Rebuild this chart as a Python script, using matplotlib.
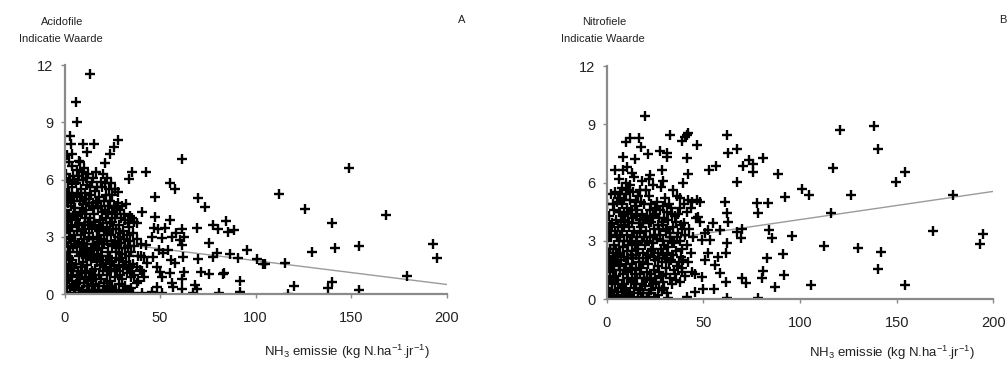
import matplotlib
matplotlib.use("Agg")
import matplotlib.pyplot as plt

plt.rcParams['font.family'] = ['Liberation Sans', 'DejaVu Sans']
plt.rcParams['mathtext.default'] = 'regular'

# ---------------- data ----------------
# Panel A: Acidofile indicatie waarde vs NH3 emissie
acid_sparse = [
    (13.4, 11.55), (6.0, 10.05), (6.4, 9.05), (2.9, 8.29), (3.4, 7.87), (9.5, 7.87),
    (15.4, 7.87), (1.1, 7.29), (3.7, 7.35), (11.6, 7.46), (28.2, 8.08), (26.1, 7.73),
    (23.8, 7.34), (21.2, 6.85), (7.8, 6.98), (3.7, 6.73), (34.0, 6.03), (35.2, 6.42),
    (42.7, 6.42), (61.3, 7.06), (55.2, 5.84), (57.8, 5.51), (28.2, 5.33), (47.4, 5.07),
    (70.0, 5.05), (73.5, 4.55), (112.4, 5.24), (125.9, 4.44), (149.0, 6.63), (168.2, 4.13),
    (139.8, 3.72), (141.5, 2.40), (129.3, 2.19), (154.1, 2.50), (193.0, 2.60), (194.7, 1.91),
    (179.0, 0.93), (154.3, 0.21), (138.0, 0.33), (140.1, 0.61), (120.2, 0.44), (117.1, 0.02),
    (115.4, 1.63), (105.0, 1.56), (104.0, 1.56), (100.6, 1.82), (95.7, 2.31), (91.0, 1.91),
    (91.9, 0.68), (91.9, 0.09), (86.6, 2.10), (84.5, 3.83), (85.7, 3.23), (88.9, 3.36),
    (77.9, 3.62), (80.5, 3.39), (75.6, 2.69), (79.6, 2.17), (77.9, 1.96), (83.1, 1.05),
    (83.5, 1.12), (75.8, 1.05), (71.4, 1.14), (70.0, 1.82), (69.2, 3.48), (80.9, 0.03),
    (67.4, 0.03), (69.2, 0.28), (68.3, 0.47), (61.3, 3.39), (62.7, 2.97), (60.4, 2.83),
    (61.3, 2.57), (61.8, 1.96), (62.7, 1.17), (61.3, 0.77), (61.3, 0.24), (58.2, 3.18),
    (55.2, 3.88), (52.5, 3.48), (56.1, 3.01), (54.0, 2.31), (55.5, 1.78), (57.8, 1.61),
    (55.2, 1.08), (56.1, 0.56), (56.9, 0.35), (50.8, 0.03), (47.4, 4.06), (46.9, 3.44),
    (49.1, 3.39), (45.6, 3.01), (50.8, 2.92), (49.6, 2.31), (51.7, 2.13), (46.1, 1.92),
    (48.2, 1.43), (50.0, 1.17), (51.2, 0.91), (48.2, 0.38), (45.6, 0.12), (42.7, 2.57),
    (40.5, 4.32), (41.4, 1.96), (43.0, 1.61), (39.5, 1.26), (41.4, 0.91), (37.8, 0.56),
    (40.5, 0.03), (36.0, 0.03),
]
acid_dense = [
    (0.4, 7.2), (0.6, 6.3), (0.3, 5.5), (0.8, 4.9), (0.5, 4.4), (0.2, 4.0), (0.7, 3.6),
    (0.4, 3.2), (0.9, 2.7), (0.3, 2.2), (0.6, 1.6), (1.0, 1.0), (0.5, 0.6), (0.8, 0.1),
    (2.2, 6.9), (1.8, 5.9), (2.5, 5.3), (1.6, 4.8), (2.3, 4.2), (1.9, 3.8), (2.6, 3.0),
    (1.7, 2.5), (2.4, 1.9), (2.0, 1.3), (1.5, 0.8), (2.7, 0.3),
    (4.2, 6.2), (3.8, 5.6), (4.5, 5.1), (3.6, 4.6), (4.4, 4.1), (4.0, 3.5), (3.5, 2.9),
    (4.6, 2.4), (3.9, 1.8), (4.3, 1.2), (3.7, 0.7), (4.8, 0.2),
    (6.3, 6.5), (5.8, 5.8), (6.6, 5.2), (5.6, 4.5), (6.1, 3.9), (6.8, 3.3), (5.5, 2.8),
    (6.4, 2.2), (5.9, 1.6), (6.7, 1.0), (6.0, 0.5), (5.7, 0.05),
    (8.1, 6.9), (7.7, 6.2), (8.5, 5.5), (7.9, 4.9), (8.3, 4.3), (7.6, 3.7), (8.7, 3.1),
    (8.0, 2.5), (7.8, 2.0), (8.6, 1.4), (8.2, 0.9), (7.5, 0.3),
    (10.2, 6.6), (9.7, 6.0), (10.5, 5.3), (9.9, 4.7), (10.8, 4.0), (9.6, 3.4), (10.4, 2.9),
    (10.0, 2.3), (9.5, 1.7), (10.6, 1.1), (10.1, 0.6), (9.8, 0.1),
    (12.3, 6.3), (11.8, 5.7), (12.6, 5.0), (11.5, 4.4), (12.1, 3.8), (12.8, 3.2), (11.7, 2.6),
    (12.4, 2.0), (11.9, 1.5), (12.7, 0.9), (12.0, 0.4), (11.6, 0.0),
    (14.2, 5.9), (13.8, 5.2), (14.5, 4.6), (13.6, 4.0), (14.3, 3.5), (14.8, 2.9), (13.7, 2.3),
    (14.1, 1.8), (14.6, 1.2), (13.9, 0.7), (14.4, 0.2),
    (16.3, 6.4), (15.8, 5.4), (16.5, 4.8), (15.6, 4.2), (16.1, 3.6), (16.8, 3.0), (15.7, 2.5),
    (16.4, 1.9), (15.9, 1.3), (16.6, 0.8), (16.0, 0.1),
    (18.2, 5.1), (17.7, 4.5), (18.5, 3.9), (17.9, 3.3), (18.3, 2.7), (17.6, 2.1), (18.7, 1.5),
    (18.0, 1.0), (17.8, 0.4),
    (20.1, 6.3), (19.7, 5.6), (20.5, 4.9), (19.8, 4.3), (20.3, 3.7), (20.8, 3.1), (19.6, 2.4),
    (20.4, 1.8), (20.0, 1.2), (20.6, 0.6), (19.9, 0.1),
    (22.2, 6.1), (21.8, 5.2), (22.6, 4.6), (21.6, 4.0), (22.4, 3.4), (22.0, 2.8), (22.7, 2.2),
    (21.7, 1.6), (22.3, 1.0), (22.5, 0.3),
    (24.3, 5.8), (23.8, 4.9), (24.6, 4.3), (23.7, 3.7), (24.2, 3.1), (24.8, 2.5), (23.9, 1.9),
    (24.4, 1.3), (24.0, 0.7), (24.5, 0.1),
    (26.2, 5.5), (25.8, 4.5), (26.5, 4.0), (25.6, 3.4), (26.3, 2.8), (26.7, 2.2), (25.9, 1.5),
    (26.4, 0.9), (26.0, 0.2),
    (28.1, 4.8), (27.7, 4.2), (28.5, 3.6), (27.8, 3.0), (28.3, 2.4), (28.7, 1.8), (27.6, 1.2),
    (28.4, 0.5), (28.0, 0.0),
    (30.2, 4.6), (29.8, 4.0), (30.5, 3.3), (29.7, 2.7), (30.3, 2.1), (30.8, 1.4), (29.9, 0.8),
    (30.4, 0.2),
    (32.2, 4.7), (31.8, 3.9), (32.5, 3.1), (31.7, 2.4), (32.3, 1.7), (32.7, 1.1), (31.9, 0.4),
    (34.1, 4.1), (33.8, 3.5), (34.5, 2.8), (33.7, 2.0), (34.3, 1.5), (34.7, 0.9), (33.9, 0.1),
    (36.2, 3.8), (35.8, 3.2), (36.5, 2.5), (35.7, 1.6), (36.3, 1.0),
    (38.1, 3.7), (37.7, 2.9), (38.4, 2.0), (37.9, 1.4), (38.3, 0.7),
    (40.2, 2.6), (39.8, 2.0), (40.4, 1.2),
]
acid_dense_extra = [
    (1.3, 5.2), (1.2, 4.2), (1.4, 3.4), (1.1, 2.0), (1.3, 0.4),
    (3.1, 6.0), (3.0, 5.0), (3.2, 3.9), (2.9, 3.3), (3.1, 2.2), (3.0, 1.5), (3.3, 0.9),
    (5.1, 6.0), (5.0, 4.9), (5.2, 4.2), (4.9, 3.1), (5.3, 2.6), (5.0, 1.4), (5.1, 0.4),
    (7.1, 6.0), (7.0, 5.3), (7.2, 4.1), (6.9, 3.6), (7.1, 2.7), (7.3, 1.2), (7.0, 0.6),
    (9.1, 6.4), (9.0, 5.1), (9.2, 4.5), (8.9, 3.3), (9.1, 2.7), (9.3, 2.1), (9.0, 1.2), (9.2, 0.2),
    (11.1, 6.1), (11.0, 5.0), (11.2, 4.2), (10.9, 3.6), (11.1, 2.4), (11.3, 1.9), (11.0, 0.8),
    (13.1, 5.6), (13.0, 4.8), (13.2, 3.6), (12.9, 3.0), (13.1, 2.2), (13.3, 1.1), (13.0, 0.2),
    (15.1, 6.1), (15.0, 4.5), (15.2, 3.8), (14.9, 2.6), (15.1, 2.0), (15.3, 1.0), (15.0, 0.5),
    (17.1, 5.6), (17.0, 4.9), (17.2, 3.4), (16.9, 2.3), (17.1, 1.7), (17.3, 0.2),
    (19.1, 5.9), (19.0, 4.6), (19.2, 3.5), (18.9, 2.9), (19.1, 2.0), (19.3, 0.8),
    (21.1, 5.8), (21.0, 4.4), (21.2, 3.3), (20.9, 2.6), (21.1, 1.4), (21.3, 0.2),
    (23.1, 5.5), (23.0, 4.2), (23.2, 3.3), (22.9, 2.0), (23.1, 1.2), (23.3, 0.4),
    (25.1, 5.2), (25.0, 3.8), (25.2, 2.6), (24.9, 1.7), (25.1, 0.4),
    (27.1, 4.6), (27.0, 3.4), (27.2, 2.5), (26.9, 1.3), (27.1, 0.1),
    (29.1, 4.4), (29.0, 3.2), (29.2, 1.9), (28.9, 1.0),
    (31.1, 4.2), (31.0, 2.9), (31.2, 1.5), (30.9, 0.1),
    (33.1, 3.7), (33.0, 2.5), (33.2, 1.3), (35.1, 4.0), (35.0, 2.2), (35.2, 1.2), (35.0, 0.3),
]

# Panel B: Nitrofiele indicatie waarde vs NH3 emissie
nitro_sparse = [
    (19.8, 9.43), (12.1, 8.31), (10.0, 8.11), (16.9, 8.28), (17.6, 7.85), (8.6, 7.34),
    (14.7, 7.20), (21.6, 7.46), (27.6, 7.65), (31.4, 7.55), (31.0, 7.34), (32.8, 8.44),
    (38.8, 8.14), (40.5, 8.37), (42.2, 8.54), (41.4, 8.46), (46.9, 7.94), (41.7, 7.26),
    (39.3, 5.97), (41.9, 6.45), (28.4, 6.66), (29.3, 6.06), (22.4, 6.40), (12.9, 6.48),
    (4.3, 6.66), (8.6, 6.66), (10.7, 6.83), (62.1, 8.46), (62.9, 7.55), (67.2, 7.74),
    (73.8, 7.14), (75.5, 6.95), (75.9, 6.54), (81.0, 7.26), (70.3, 6.86), (67.6, 6.05),
    (53.1, 6.66), (56.6, 6.86), (88.8, 6.43), (100.9, 5.66), (104.8, 5.37), (92.2, 5.28),
    (77.6, 4.97), (83.6, 4.97), (78.4, 4.46), (120.7, 8.71), (138.3, 8.92), (140.5, 7.74),
    (117.2, 6.74), (154.3, 6.54), (149.7, 6.05), (126.4, 5.37), (179.3, 5.37), (115.9, 4.46),
    (168.6, 3.53), (194.8, 3.34), (193.1, 2.83), (112.4, 2.74), (129.8, 2.62), (141.9, 2.42),
    (140.2, 1.54), (154.5, 0.74), (105.7, 0.74), (95.7, 3.26), (91.4, 2.33), (91.9, 1.25),
    (87.1, 0.65), (84.1, 3.57), (85.3, 3.14), (82.8, 2.14), (81.0, 1.48), (80.2, 1.08),
    (78.1, 0.05), (69.8, 3.60), (67.6, 3.48), (69.3, 3.14), (69.8, 1.08), (72.1, 0.82),
    (62.1, 0.05), (61.7, 0.91), (61.7, 2.40), (62.9, 4.00), (62.1, 4.43), (61.4, 5.03),
    (62.4, 2.88), (58.6, 3.57), (57.8, 2.20), (56.0, 1.77), (58.6, 1.34), (55.5, 0.51),
    (50.0, 0.51), (45.7, 0.39), (41.4, 0.14), (31.9, 0.05), (49.1, 3.05), (50.9, 3.40),
    (52.6, 3.57), (54.8, 3.91), (53.4, 3.05), (52.6, 2.37), (50.9, 2.02), (49.1, 1.17),
    (47.4, 4.25), (48.3, 4.00), (48.3, 5.03), (46.6, 5.11),
]
nitro_dense = [
    (0.4, 4.9), (0.6, 3.6), (0.3, 3.0), (0.8, 2.4), (0.5, 1.7), (0.2, 1.1), (0.7, 0.6), (0.4, 0.2),
    (2.1, 5.4), (1.8, 3.8), (2.4, 3.2), (1.6, 2.6), (2.2, 2.0), (1.9, 1.4), (2.5, 0.9), (1.7, 0.3),
    (4.1, 5.5), (3.7, 4.6), (4.4, 3.5), (3.6, 2.8), (4.2, 2.2), (3.9, 1.5), (4.5, 0.8), (3.8, 0.1),
    (6.2, 6.2), (5.8, 5.2), (6.5, 4.5), (5.7, 3.7), (6.3, 3.0), (5.9, 2.3), (6.6, 1.7), (6.0, 1.0),
    (5.6, 0.4),
    (8.1, 5.7), (7.7, 4.9), (8.4, 4.3), (7.8, 3.5), (8.3, 2.7), (7.6, 2.0), (8.6, 1.3), (8.0, 0.7),
    (7.9, 0.1),
    (10.2, 6.0), (9.8, 5.4), (10.5, 4.7), (9.7, 4.1), (10.3, 3.3), (10.7, 2.5), (9.9, 1.8),
    (10.4, 1.1), (10.0, 0.5),
    (12.2, 5.9), (11.8, 5.1), (12.5, 4.4), (11.6, 3.7), (12.3, 3.0), (12.8, 2.3), (11.9, 1.6),
    (12.4, 0.9), (12.0, 0.2),
    (14.1, 6.3), (13.7, 5.5), (14.5, 4.8), (13.8, 4.2), (14.3, 3.5), (14.8, 2.8), (13.6, 2.1),
    (14.4, 1.3), (14.0, 0.6),
    (16.2, 5.3), (15.8, 4.6), (16.5, 3.9), (15.7, 3.2), (16.3, 2.6), (16.7, 1.9), (15.9, 1.1),
    (16.4, 0.3),
    (18.1, 6.1), (17.7, 5.0), (18.5, 4.4), (17.8, 3.7), (18.3, 3.0), (18.7, 2.4), (17.6, 1.6),
    (18.4, 0.8), (18.0, 0.1),
    (20.2, 5.6), (19.8, 4.2), (20.5, 3.5), (19.7, 2.8), (20.3, 2.1), (20.8, 1.4), (19.9, 0.7),
    (22.1, 6.2), (21.7, 5.3), (22.5, 4.6), (21.8, 3.9), (22.3, 3.2), (22.7, 2.5), (21.6, 1.8),
    (22.4, 1.0), (22.0, 0.3),
    (24.2, 5.9), (23.8, 4.3), (24.5, 3.6), (23.7, 2.9), (24.3, 2.2), (24.7, 1.5), (23.9, 0.8),
    (26.1, 5.0), (25.7, 4.4), (26.5, 3.8), (25.8, 3.1), (26.3, 2.4), (26.7, 1.7), (25.6, 0.9),
    (26.4, 0.2),
    (28.2, 5.8), (27.8, 4.6), (28.5, 4.0), (27.7, 3.3), (28.3, 2.6), (28.7, 1.9), (27.9, 1.2),
    (28.4, 0.5),
    (30.1, 5.2), (29.7, 4.2), (30.5, 3.5), (29.8, 2.8), (30.3, 2.1), (30.7, 1.3), (29.9, 0.6),
    (32.2, 4.9), (31.8, 4.1), (32.5, 3.4), (31.7, 2.7), (32.3, 1.9), (32.7, 1.1),
    (34.1, 5.6), (33.7, 4.4), (34.5, 3.7), (33.8, 3.0), (34.3, 2.3), (34.7, 1.5), (33.9, 0.8),
    (36.2, 5.3), (35.8, 4.0), (36.5, 3.2), (35.7, 2.5), (36.3, 1.7), (36.0, 1.0),
    (38.1, 5.2), (37.7, 4.7), (38.5, 3.8), (37.8, 3.0), (38.3, 2.2), (38.7, 1.4), (37.9, 0.9),
    (40.2, 4.9), (39.8, 3.9), (40.5, 3.3), (39.7, 2.0), (40.3, 1.2),
    (42.1, 5.1), (41.7, 4.5), (42.5, 3.6), (41.8, 2.8), (42.3, 1.9),
    (44.2, 5.0), (43.8, 4.7), (44.5, 3.2), (43.7, 2.4), (44.3, 1.4),
    (46.1, 4.2), (45.8, 1.3),
]
nitro_dense_extra = [
    (1.2, 4.3), (1.1, 3.3), (1.3, 2.1), (1.0, 1.0), (1.2, 0.1),
    (3.1, 4.9), (3.0, 3.9), (3.2, 2.4), (2.9, 1.8), (3.1, 1.1), (3.0, 0.5),
    (5.1, 5.0), (5.0, 4.1), (5.2, 3.3), (4.9, 2.6), (5.1, 1.9), (5.0, 1.2), (5.2, 0.2),
    (7.1, 5.4), (7.0, 4.5), (7.2, 4.0), (6.9, 3.2), (7.1, 2.4), (7.0, 1.5), (7.2, 0.6),
    (9.1, 5.1), (9.0, 4.4), (9.2, 3.8), (8.9, 3.0), (9.1, 2.2), (9.0, 1.5), (9.2, 0.8), (9.0, 0.1),
    (11.1, 5.6), (11.0, 4.5), (11.2, 4.0), (10.9, 2.8), (11.1, 2.1), (11.0, 1.4), (11.2, 0.4),
    (13.1, 4.6), (13.0, 3.9), (13.2, 3.2), (12.9, 2.5), (13.1, 1.8), (13.0, 1.0), (13.2, 0.1),
    (15.1, 5.0), (15.0, 4.3), (15.2, 2.9), (14.9, 2.3), (15.1, 1.5), (15.0, 0.8),
    (17.1, 5.6), (17.0, 4.1), (17.2, 3.4), (16.9, 2.1), (17.1, 1.3), (17.0, 0.5),
    (19.1, 4.9), (19.0, 3.9), (19.2, 3.2), (18.9, 1.9), (19.1, 1.1), (19.0, 0.3),
    (21.1, 4.3), (21.0, 3.0), (21.2, 2.3), (20.9, 1.1), (21.1, 0.1),
    (23.1, 4.9), (23.0, 4.0), (23.2, 2.6), (22.9, 1.3), (23.1, 0.5),
    (25.1, 4.7), (25.0, 3.3), (25.2, 2.0), (24.9, 1.1), (25.1, 0.1),
    (27.1, 4.2), (27.0, 3.6), (27.2, 2.1), (26.9, 1.4), (27.1, 0.6),
    (29.1, 4.8), (29.0, 3.8), (29.2, 3.0), (28.9, 2.3), (29.1, 0.9),
    (31.1, 4.5), (31.0, 3.6), (31.2, 2.4), (30.9, 1.6), (31.1, 0.3),
    (33.1, 4.7), (33.0, 3.2), (33.2, 2.0), (35.1, 4.3), (35.0, 2.9), (35.2, 1.3),
    (37.1, 4.4), (37.0, 3.4), (37.2, 1.9), (39.1, 3.6), (39.0, 2.6), (39.2, 1.6),
]

# regression lines (intercept, slope)
acid_fit = (3.0, -0.0125)
nitro_fit = (2.65, 0.0145)
fit_x = [0, 200]

x_ticks = [0, 50, 100, 150, 200]
y_ticks = [0, 3, 6, 9, 12]

# ---------------- figure ----------------
fig = plt.figure(figsize=(10.08, 3.65), dpi=100)
W, H = 1008, 365

def px_axes(x0, x1, y_top, y_bot):
    return fig.add_axes([x0 / W, 1 - y_bot / H, (x1 - x0) / W, (y_bot - y_top) / H])

axA = px_axes(64.5, 446.7, 65.3, 294.0)
axB = px_axes(606.7, 993.3, 66.0, 299.3)

panels = [
    (axA, acid_sparse + acid_dense + acid_dense_extra, acid_fit),
    (axB, nitro_sparse + nitro_dense + nitro_dense_extra, nitro_fit),
]

for ax, pts, fit in panels:
    xs = [p[0] for p in pts]
    ys = [p[1] for p in pts]
    b0, b1 = fit
    ax.plot(fit_x, [b0 + b1 * v for v in fit_x], color='#9a9a9a', lw=1.0, zorder=1)
    ax.plot(xs, ys, linestyle='none', marker='+', ms=6.5, mew=1.7, color='black', zorder=2)
    ax.set_xlim(0, 200)
    ax.set_ylim(0, 12)
    ax.set_xticks(x_ticks)
    ax.set_yticks(y_ticks)
    for s in ['top', 'right']:
        ax.spines[s].set_visible(False)
    for s in ['left', 'bottom']:
        ax.spines[s].set_color('#8a8a8a')
        ax.spines[s].set_linewidth(1.6)
    ax.tick_params(axis='both', direction='out', length=3, width=1, color='#8a8a8a',
                   labelsize=10.5, labelcolor='#222222')
    ax.tick_params(axis='x', pad=9)
    ax.tick_params(axis='y', pad=5)
    ax.patch.set_visible(False)

lab_kw = dict(fontsize=8, color='#222222', ha='center', va='center')
fig.text(62 / W, 1 - 22 / H, 'Acidofile', **lab_kw)
fig.text(61 / W, 1 - 39 / H, 'Indicatie Waarde', **lab_kw)
fig.text(604 / W, 1 - 22 / H, 'Nitrofiele', **lab_kw)
fig.text(603 / W, 1 - 39 / H, 'Indicatie Waarde', **lab_kw)
fig.text(462 / W, 1 - 20 / H, 'A', **lab_kw)
fig.text(1006 / W, 1 - 20 / H, 'B', fontsize=8, color='#222222', ha='right', va='center')

xl = r'NH$_3$ emissie (kg N.ha$^{-1}$.jr$^{-1}$)'
fig.text(347 / W, 1 - 352 / H, xl, fontsize=9.5, color='#222222', ha='center', va='center')
fig.text(892 / W, 1 - 353 / H, xl, fontsize=9.5, color='#222222', ha='center', va='center')

fig.savefig('out.png', dpi=100)
